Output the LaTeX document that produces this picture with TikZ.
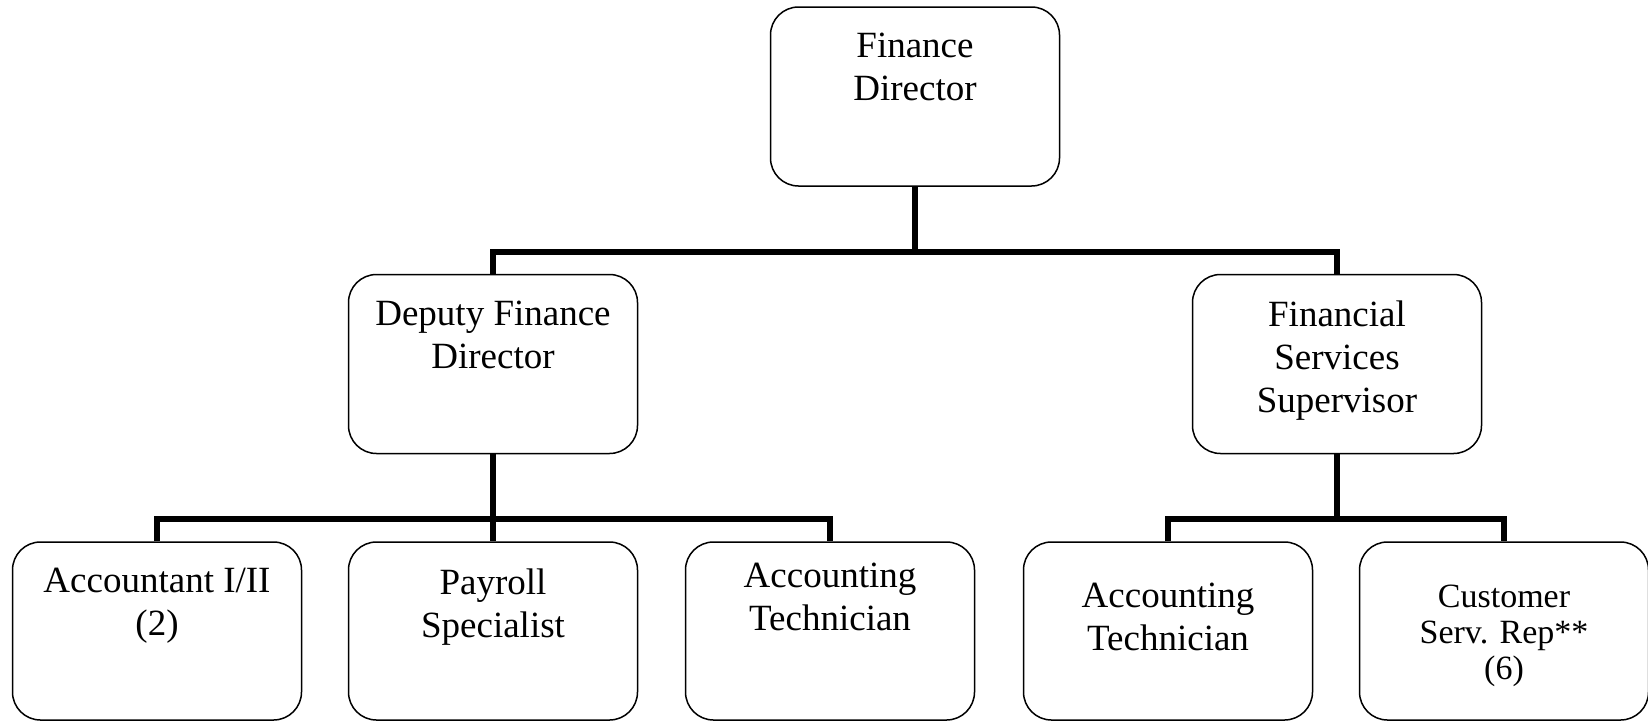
\documentclass[tikz,border=0pt]{standalone}
\usepackage{fontspec}
\setmainfont{Liberation Serif}
\begin{document}
\begin{tikzpicture}[x=1pt,y=-1pt,
  box/.style={draw=black, line width=1.5pt, rounded corners=28pt, minimum width=289pt, minimum height=179pt, inner sep=0pt},
  lowbox/.style={box, minimum height=178pt},
  txt/.style={font=\fontsize{37}{43}\selectfont, align=center, anchor=north, inner sep=0pt},
  smalltxt/.style={txt, font=\fontsize{34}{36}\selectfont},
  conn/.style={line width=6pt, line join=miter}]
\useasboundingbox (0,0) rectangle (1648,721);
% boxes
\node[box] (fd)  at (915,96.5) {};
\node[box] (dfd) at (493,364) {};
\node[box] (fss) at (1337,364) {};
\node[lowbox] (acc)   at (157,631) {};
\node[lowbox] (pay)   at (493,631) {};
\node[lowbox] (tech1) at (830,631) {};
\node[lowbox] (tech2) at (1168,631) {};
\node[lowbox] (csr)   at (1504,631) {};
% texts
\node[txt] (tfd)  at ([yshift=-27pt]fd.north) {Finance\\Director};
\node[txt] (tdfd) at ([yshift=-27pt]dfd.north) {Deputy Finance\\Director};
\node[txt] (tfss) at ([yshift=-27pt]fss.north) {Financial\\Services\\Supervisor};
\node[txt] (tacc) at ([yshift=-27pt]acc.north) {Accountant I/II\\(2)};
\node[txt] (tpay) at ([yshift=-27pt]pay.north) {Payroll\\Specialist};
\node[txt] (tt1)  at ([yshift=-22pt]tech1.north) {Accounting\\Technician};
\node[txt] (tt2)  at ([yshift=-42pt]tech2.north) {Accounting\\Technician};
\node[smalltxt] (tcsr) at ([yshift=-44pt]csr.north) {Customer\\Serv. Rep**\\(6)};
% junctions
\coordinate (j1) at (915,252);
\coordinate (j2) at (493,519);
\coordinate (j3) at (1337,519);
% connectors
\draw[conn] (fd.south) -- (j1);
\draw[conn] (dfd.north) -- (dfd.north |- j1) -- (fss.north |- j1) -- (fss.north);
\draw[conn] (dfd.south) -- (j2);
\draw[conn] (acc.north) -- (acc.north |- j2) -- (tech1.north |- j2) -- (tech1.north);
\draw[conn] (j2) -- (pay.north);
\draw[conn] (fss.south) -- (j3);
\draw[conn] (tech2.north) -- (tech2.north |- j3) -- (csr.north |- j3) -- (csr.north);
\end{tikzpicture}
\end{document}
